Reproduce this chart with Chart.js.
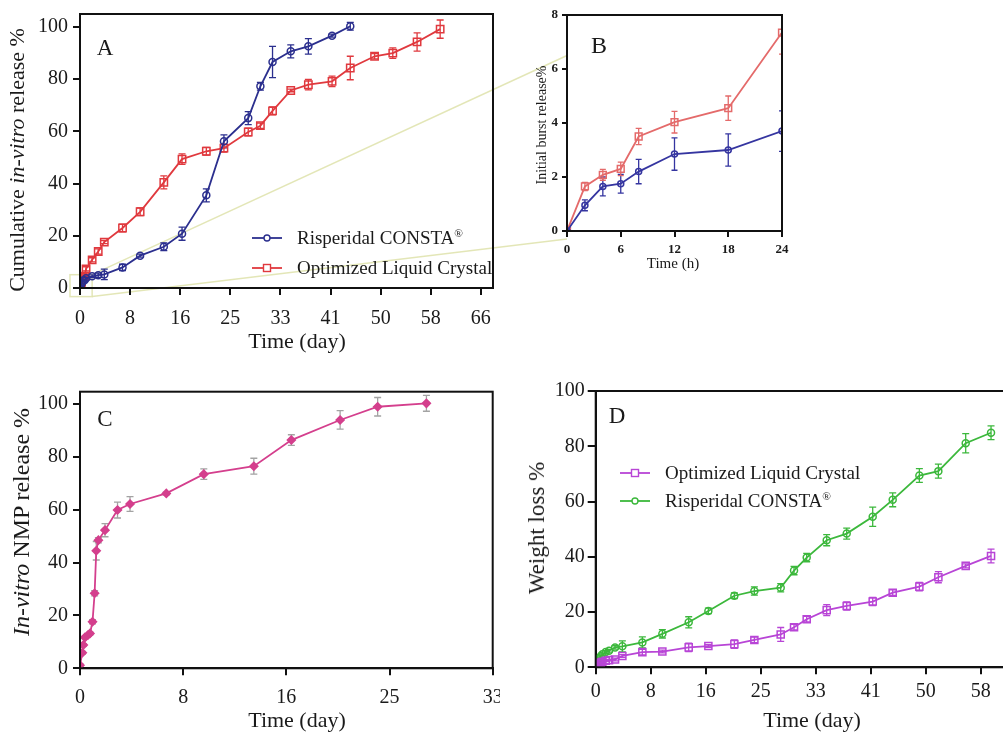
<!DOCTYPE html>
<html>
<head>
<meta charset="utf-8">
<script src="https://cdn.jsdelivr.net/npm/chart.js@4.4.0/dist/chart.umd.min.js"></script>
<style>
  body { margin: 0; background: #fff; }
  #page { position: relative; width: 1003px; height: 733px; overflow: hidden; font-family: 'Liberation Serif', 'Times New Roman', serif; color: #1a1a1a; }
  #page canvas { position: absolute; }
  .lbl { position: absolute; white-space: nowrap; transform: translate(-50%, -50%); }
  .ytitle { position: absolute; white-space: nowrap; transform: translate(-50%, -50%) rotate(-90deg); }
  .leg { position: absolute; height: 24px; line-height: 24px; display: flex; align-items: center; white-space: nowrap; font-size: 19px; }
  .leg svg { margin-right: 15px; }
  sup { font-size: 0.6em; line-height: 0; }
</style>
</head>
<body>
<div id="page">
  <canvas id="zoomLines" width="1003" height="733" style="left:0;top:0;z-index:0"></canvas>
  <canvas id="chartA" width="500" height="330" style="left:0;top:0;z-index:1"></canvas>
  <canvas id="chartB" width="300" height="290" style="left:500px;top:0;z-index:1"></canvas>
  <canvas id="chartC" width="500" height="373" style="left:0;top:360px;z-index:1"></canvas>
  <canvas id="chartD" width="540" height="373" style="left:500px;top:360px;z-index:1"></canvas>

  <!-- panel letters -->
  <div class="lbl" style="left:105px;top:48px;font-size:23px">A</div>
  <div class="lbl" style="left:599px;top:45px;font-size:24px">B</div>
  <div class="lbl" style="left:105px;top:419px;font-size:23px">C</div>
  <div class="lbl" style="left:617px;top:416px;font-size:23px">D</div>

  <!-- axis titles -->
  <div class="ytitle" style="left:17px;top:160px;font-size:22px">Cumulative <i>in-vitro</i> release %</div>
  <div class="lbl" style="left:297px;top:341px;font-size:22px">Time (day)</div>
  <div class="ytitle" style="left:542px;top:125px;font-size:14px">Initial burst release%</div>
  <div class="lbl" style="left:673px;top:263px;font-size:15px">Time (h)</div>
  <div class="ytitle" style="left:21px;top:522px;font-size:24px"><i>In-vitro</i> NMP release %</div>
  <div class="lbl" style="left:297px;top:720px;font-size:22px">Time (day)</div>
  <div class="ytitle" style="left:537px;top:528px;font-size:23px">Weight loss %</div>
  <div class="lbl" style="left:812px;top:720px;font-size:22px">Time (day)</div>

  <!-- legends -->
  <div class="leg" style="left:252px;top:226px">
    <svg width="30" height="12"><line x1="0" y1="6" x2="30" y2="6" stroke="#2b2f8e" stroke-width="1.8"/><circle cx="15" cy="6" r="3" fill="#fff" stroke="#2b2f8e" stroke-width="1.4"/></svg>
    <span>Risperidal CONSTA<sup>®</sup></span>
  </div>
  <div class="leg" style="left:252px;top:256px">
    <svg width="30" height="12"><line x1="0" y1="6" x2="30" y2="6" stroke="#e0393e" stroke-width="1.8"/><rect x="11.5" y="2.5" width="7" height="7" fill="#fff" stroke="#e0393e" stroke-width="1.4"/></svg>
    <span>Optimized Liquid Crystal</span>
  </div>
  <div class="leg" style="left:620px;top:461px">
    <svg width="30" height="12"><line x1="0" y1="6" x2="30" y2="6" stroke="#b845d6" stroke-width="1.8"/><rect x="11.5" y="2.5" width="7" height="7" fill="#fff" stroke="#b845d6" stroke-width="1.4"/></svg>
    <span>Optimized Liquid Crystal</span>
  </div>
  <div class="leg" style="left:620px;top:489px">
    <svg width="30" height="12"><line x1="0" y1="6" x2="30" y2="6" stroke="#3cb83c" stroke-width="1.8"/><circle cx="15" cy="6" r="3" fill="#fff" stroke="#3cb83c" stroke-width="1.4"/></svg>
    <span>Risperidal CONSTA<sup>®</sup></span>
  </div>
</div>

<script>
// ---- Panel A : cumulative in-vitro release (day)
var daysA = [0, 0.08, 0.17, 0.25, 0.33, 0.5, 0.75, 1, 2, 3, 4, 7, 9.9, 13.8, 16.8, 20.8, 23.7, 27.7, 29.7, 31.7, 34.7, 37.6, 41.5, 44.5, 48.5, 51.5, 55.5, 59.3];
var constaA = [0, 0.95, 1.65, 1.75, 2.2, 2.85, 3.0, 3.7, 4.5, 4.9, 5.2, 7.9, 12.4, 15.8, 20.8, 35.5, 56.2, 65.1, 77.3, 86.6, 90.7, 92.6, 96.7, 100.3];
var constaErrA = [0, 0.2, 0.35, 0.35, 0.45, 0.6, 0.6, 0.75, 0.5, 0.8, 2.0, 1.2, 0.6, 1.5, 2.5, 2.5, 2.5, 2.5, 1.5, 6.0, 2.5, 3.0, 0.6, 1.5];
var crystalA = [0, 1.65, 2.08, 2.3, 3.5, 4.03, 4.55, 7.35, 10.8, 14.0, 17.6, 23.0, 29.2, 40.5, 49.4, 52.4, 53.6, 59.8, 62.2, 67.9, 75.7, 77.9, 79.2, 84.3, 88.8, 90.0, 94.3, 99.2];
var crystalErrA = [0, 0.15, 0.2, 0.25, 0.3, 0.4, 0.45, 0.8, 0.8, 1.0, 0.6, 1.5, 1.5, 2.5, 2.0, 1.5, 1.5, 1.5, 1.0, 1.5, 0.5, 2.0, 2.0, 4.5, 1.0, 2.0, 3.5, 3.5];

// ---- Panel B : initial burst (hours)
var hoursB = [0, 2, 4, 6, 8, 12, 18, 24];
var constaB = [0, 0.95, 1.65, 1.75, 2.2, 2.85, 3.0, 3.7];
var constaErrB = [0, 0.2, 0.35, 0.35, 0.45, 0.6, 0.6, 0.75];
var crystalB = [0, 1.65, 2.08, 2.3, 3.5, 4.03, 4.55, 7.35];
var crystalErrB = [0, 0.15, 0.2, 0.25, 0.3, 0.4, 0.45, 0.8];

// ---- Panel C : NMP release (day)
var daysC = [0, 0.19, 0.27, 0.4, 0.64, 0.8, 1.0, 1.17, 1.3, 1.47, 2, 3, 4, 6.9, 9.9, 13.9, 16.9, 20.8, 23.8, 27.7];
var nmpC = [1.2, 5.9, 8.8, 11.7, 12.6, 13.2, 17.6, 28.4, 44.5, 48.5, 52.3, 59.9, 62.2, 66.2, 73.5, 76.5, 86.4, 94.0, 99.0, 100.3];
var nmpErrC = [0.5, 0.5, 0.5, 0.5, 0.5, 0.5, 0.8, 1.0, 3.5, 1.0, 2.5, 3.0, 2.8, 0.5, 2.0, 3.0, 2.0, 3.5, 3.5, 3.0];

// ---- Panel D : weight loss (day)
var daysD = [0, 0.17, 0.33, 0.5, 0.75, 1, 1.5, 2, 2.9, 4, 7, 10, 13.95, 16.9, 20.8, 23.8, 27.75, 29.75, 31.65, 34.65, 37.65, 41.55, 44.55, 48.55, 51.4, 55.5, 59.3];
var crystalD = [0, 0.5, 1.0, 1.3, 1.7, 2.0, 2.4, 2.6, 2.8, 4.1, 5.5, 5.7, 7.2, 7.7, 8.4, 9.9, 11.9, 14.5, 17.4, 20.7, 22.2, 23.8, 27.0, 29.2, 32.6, 36.7, 40.3];
var crystalErrD = [0, 0.2, 0.2, 0.2, 0.3, 0.3, 0.3, 0.3, 0.5, 0.5, 1.0, 0.5, 1.5, 0.5, 1.5, 1.0, 2.5, 1.0, 1.0, 2.0, 1.5, 1.5, 1.0, 1.5, 2.0, 0.7, 2.5];
var constaD = [0.5, 1.5, 2.5, 3.3, 4.0, 4.7, 5.5, 6.0, 7.2, 7.6, 9.0, 12.1, 16.3, 20.4, 25.9, 27.6, 28.8, 35.0, 39.7, 46.0, 48.4, 54.5, 60.6, 69.4, 71.0, 81.1, 84.9];
var constaErrD = [0, 0.3, 0.3, 0.3, 0.4, 0.4, 0.5, 0.5, 0.6, 2.0, 2.0, 1.5, 2.0, 1.0, 1.0, 1.5, 1.5, 1.5, 1.5, 2.0, 2.0, 3.5, 2.5, 2.5, 2.5, 3.5, 2.5];

// ---- ticks
var dayTicks66 = [0, 8.25, 16.5, 24.75, 33, 41.25, 49.5, 57.75, 66];
var dayLabels66 = ['0', '8', '16', '25', '33', '41', '50', '58', '66'];
var dayTicks33 = [0, 8.25, 16.5, 24.75, 33];
var dayLabels33 = ['0', '8', '16', '25', '33'];
var pctTicks = [0, 20, 40, 60, 80, 100];
var hourTicks = [0, 6, 12, 18, 24];
var burstTicks = [0, 2, 4, 6, 8];

var zoomBoxX = [-1.65, 2];   // the little box around the origin of A
var zoomBoxY = [-3.3, 5.1];

function pts(xs, ys) {
    return ys.map(function (y, i) { return { x: xs[i], y: y }; });
}

// error bars drawn from dataset.errors through the chart scales
var errorBars = {
    id: 'errorBars',
    beforeDatasetsDraw: function (chart) {
        var ctx = chart.ctx, a = chart.chartArea, sx = chart.scales.x, sy = chart.scales.y;
        ctx.save();
        ctx.beginPath();
        ctx.rect(a.left, a.top - 1, a.width, a.height + 2);
        ctx.clip();
        chart.data.datasets.forEach(function (ds) {
            if (!ds.errors) return;
            ctx.strokeStyle = ds.errorColor || ds.borderColor;
            ctx.lineWidth = 1.3;
            var c = ds.capWidth || 3;
            ds.data.forEach(function (p, i) {
                var e = ds.errors[i];
                if (!e) return;
                var px = sx.getPixelForValue(p.x);
                var y1 = sy.getPixelForValue(p.y - e), y2 = sy.getPixelForValue(p.y + e);
                ctx.beginPath();
                ctx.moveTo(px, y1); ctx.lineTo(px, y2);
                ctx.moveTo(px - c, y1); ctx.lineTo(px + c, y1);
                ctx.moveTo(px - c, y2); ctx.lineTo(px + c, y2);
                ctx.stroke();
            });
        });
        ctx.restore();
    }
};

var frame = {
    id: 'frame',
    afterDraw: function (chart) {
        var a = chart.chartArea, ctx = chart.ctx;
        ctx.save();
        ctx.strokeStyle = '#111';
        ctx.lineWidth = 2;
        ctx.strokeRect(a.left, a.top, a.right - a.left, a.bottom - a.top);
        ctx.restore();
    }
};

function axis(opt) {
    return {
        type: 'linear',
        min: opt.min,
        max: opt.max,
        afterBuildTicks: function (s) { s.ticks = opt.ticks.map(function (v) { return { value: v }; }); },
        afterFit: function (s) {
            if (opt.width) s.width = opt.width;
            if (opt.height) s.height = opt.height;
            s.paddingLeft = 0; s.paddingRight = 0; s.paddingTop = 0; s.paddingBottom = 0;
        },
        border: { display: true, color: '#111', width: 2 },
        grid: { drawOnChartArea: false, drawTicks: true, tickLength: opt.tick || 7, color: '#111', lineWidth: 2 },
        ticks: {
            autoSkip: false,
            maxRotation: 0,
            padding: opt.pad,
            color: '#1a1a1a',
            font: { family: 'Liberation Serif', size: opt.size || 20, weight: opt.bold ? 'bold' : 'normal' },
            callback: function (v, i) { return opt.labels ? opt.labels[i] : String(v); }
        }
    };
}

function lineSet(data, errs, color, style, r, fill, errColor, cap) {
    return {
        data: data,
        errors: errs,
        errorColor: errColor,
        capWidth: cap,
        borderColor: color,
        borderWidth: 1.8,
        pointStyle: style,
        pointRadius: r,
        pointBorderWidth: 1.5,
        pointBackgroundColor: fill || 'rgba(255,255,255,0)',
        pointBorderColor: color,
        tension: 0,
        fill: false
    };
}

function baseOptions(pad, xAxis, yAxis) {
    return {
        responsive: false,
        animation: false,
        events: [],
        layout: { padding: pad, autoPadding: false },
        plugins: { legend: { display: false }, tooltip: { enabled: false } },
        scales: { x: xAxis, y: yAxis }
    };
}

var chartA = new Chart(document.getElementById('chartA'), {
    type: 'line',
    data: { datasets: [
        lineSet(pts(daysA, constaA), constaErrA, '#2b2f8e', 'circle', 3.5, null, null, 3.5),
        lineSet(pts(daysA, crystalA), crystalErrA, '#e0393e', 'rect', 5.2, null, null, 3.5)
    ] },
    options: baseOptions({ top: 14, right: 7, left: 0, bottom: 0 },
        axis({ min: 0, max: 68, ticks: dayTicks66, labels: dayLabels66, height: 42, pad: 12 }),
        axis({ min: 0, max: 105, ticks: pctTicks, width: 80, pad: 5 })),
    plugins: [errorBars, frame]
});

var chartB = new Chart(document.getElementById('chartB'), {
    type: 'line',
    data: { datasets: [
        lineSet(pts(hoursB, constaB), constaErrB, '#3535a0', 'circle', 3, null, null, 3),
        lineSet(pts(hoursB, crystalB), crystalErrB, '#e46a6a', 'rect', 4.8, null, null, 3)
    ] },
    options: baseOptions({ top: 15, right: 18, left: 0, bottom: 0 },
        axis({ min: 0, max: 24, ticks: hourTicks, height: 59, pad: 5, size: 13, bold: true, tick: 6 }),
        axis({ min: 0, max: 8, ticks: burstTicks, width: 67, pad: 4, size: 13, bold: true, tick: 5 })),
    plugins: [errorBars, frame]
});

var chartC = new Chart(document.getElementById('chartC'), {
    type: 'line',
    data: { datasets: [
        lineSet(pts(daysC, nmpC), nmpErrC, '#d43f8d', 'rectRot', 4, '#d43f8d', '#a3a3a3', 3.5)
    ] },
    options: baseOptions({ top: 31.7, right: 7.3, left: 0, bottom: 0 },
        axis({ min: 0, max: 33, ticks: dayTicks33, labels: dayLabels33, height: 64.7, pad: 10 }),
        axis({ min: 0, max: 104.7, ticks: pctTicks, width: 80, pad: 5 })),
    plugins: [errorBars, frame]
});

var chartD = new Chart(document.getElementById('chartD'), {
    type: 'line',
    data: { datasets: [
        lineSet(pts(daysD, crystalD), crystalErrD, '#b845d6', 'rect', 5, null, null, 3.5),
        lineSet(pts(daysD, constaD), constaErrD, '#3cb83c', 'circle', 3.5, null, null, 3.5)
    ] },
    options: baseOptions({ top: 31, right: 4.3, left: 0, bottom: 0 },
        axis({ min: 0, max: 66, ticks: dayTicks66, labels: dayLabels66, height: 65.7, pad: 5 }),
        axis({ min: 0, max: 100, ticks: pctTicks, width: 95.7, pad: 3, tick: 8 })),
    plugins: [errorBars, frame]
});

// pale zoom connector from the origin of A to panel B
var zc = document.getElementById('zoomLines').getContext('2d');
var ax = chartA.scales.x, ay = chartA.scales.y, bx = chartB.scales.x, by = chartB.scales.y;
var bx0 = 500 + bx.getPixelForValue(0);
var x1 = ax.getPixelForValue(zoomBoxX[0]), x2 = ax.getPixelForValue(zoomBoxX[1]);
var y1 = ay.getPixelForValue(zoomBoxY[1]), y2 = ay.getPixelForValue(zoomBoxY[0]);
zc.strokeStyle = 'rgba(222,226,170,0.85)';
zc.lineWidth = 1.5;
zc.strokeRect(x1, y1, x2 - x1, y2 - y1);
zc.beginPath();
zc.moveTo(x2, y1); zc.lineTo(bx0, by.getPixelForValue(6.5));
zc.moveTo(x2, y2); zc.lineTo(bx0, by.getPixelForValue(-0.3));
zc.stroke();
</script>
</body>
</html>
